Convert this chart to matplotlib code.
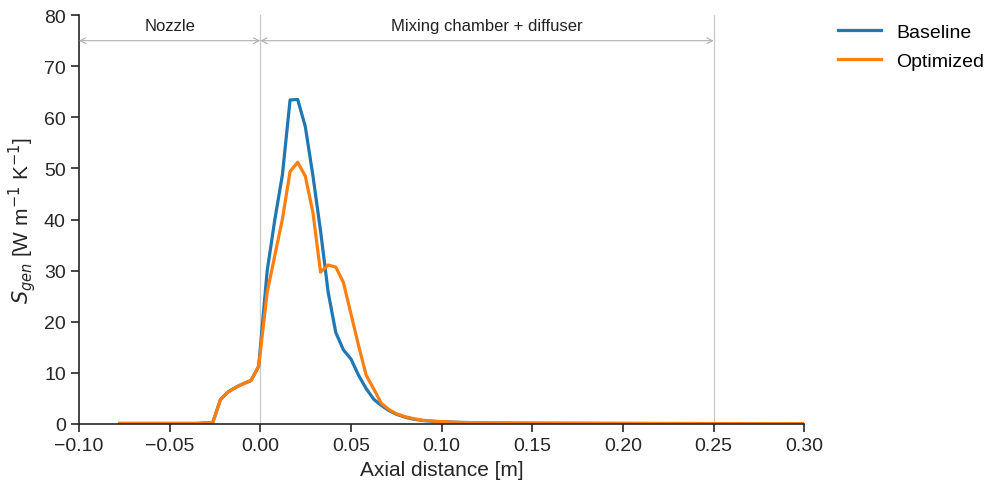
import numpy as np
from matplotlib import pyplot as plt

plt.rcParams["font.family"] = ["Liberation Sans", "DejaVu Sans"]

# axial positions [m]
x = [-0.0775, -0.060, -0.045, -0.035, -0.0262, -0.022, -0.018, -0.0134, -0.0092, -0.0051,
     -0.0009, 0.0038, 0.008, 0.0122, 0.0164, 0.0206, 0.0248, 0.029, 0.0332, 0.0374,
     0.0416, 0.0458, 0.050, 0.0542, 0.0584, 0.0626, 0.0668, 0.071, 0.075, 0.080,
     0.085, 0.090, 0.100, 0.110, 0.125, 0.150, 0.200, 0.250, 0.300]

baseline = [0.1, 0.1, 0.1, 0.1, 0.3, 4.75, 6.2, 7.2, 7.9, 8.5,
            11.3, 30.0, 40.0, 48.8, 63.4, 63.5, 58.2, 48.6, 37.8, 25.8,
            17.9, 14.5, 12.7, 9.5, 6.9, 4.8, 3.6, 2.6, 1.9, 1.3,
            0.9, 0.65, 0.4, 0.3, 0.2, 0.15, 0.1, 0.07, 0.05]

optimized = [0.1, 0.1, 0.1, 0.1, 0.3, 4.75, 6.2, 7.2, 7.9, 8.5,
             11.3, 25.8, 33.0, 40.1, 49.4, 51.2, 48.5, 41.4, 29.7, 31.1,
             30.7, 27.7, 21.5, 15.3, 9.5, 6.8, 4.0, 2.8, 2.0, 1.4,
             1.0, 0.7, 0.45, 0.3, 0.2, 0.15, 0.1, 0.07, 0.05]

fig = plt.figure(figsize=(9.87, 4.89), dpi=100)
ax = fig.add_axes([0.080, 0.131, 0.735, 0.836])

ax.plot(x, baseline, color="#1f77b4", lw=2.3, label="Baseline")
ax.plot(x, optimized, color="#ff7f0e", lw=2.3, label="Optimized")

# section boundaries
for xv in [0.0, 0.25]:
    ax.axvline(xv, color="#c8c8c8", lw=0.9, zorder=0)

arrow = dict(arrowstyle="<->", color="#b0b0b0", lw=0.8, shrinkA=0, shrinkB=0)
ax.annotate("", xy=(-0.1, 75), xytext=(0.0, 75), arrowprops=arrow)
ax.annotate("", xy=(0.0, 75), xytext=(0.25, 75), arrowprops=arrow)
ax.text(-0.05, 78, "Nozzle", ha="center", va="center", fontsize=12, color="#222222")
ax.text(0.125, 78, "Mixing chamber + diffuser", ha="center", va="center",
        fontsize=12, color="#222222")

ax.set_xlim(-0.1, 0.3)
ax.set_ylim(0, 80)
ax.set_xticks(np.arange(-0.1, 0.31, 0.05))
ax.set_yticks(np.arange(0, 81, 10))
ax.tick_params(labelsize=14, direction="out", length=6, width=1.2, colors="#262626")
ax.spines["top"].set_visible(False)
ax.spines["right"].set_visible(False)
for s in ["left", "bottom"]:
    ax.spines[s].set_linewidth(1.2)
    ax.spines[s].set_color("#262626")

ax.set_xlabel("Axial distance [m]", fontsize=15, color="#262626")
ax.set_ylabel(r"$S_{gen}$ [W m$^{-1}$ K$^{-1}$]", fontsize=15, color="#262626")

ax.legend(loc="upper left", bbox_to_anchor=(1.022, 1.022), frameon=False, fontsize=14,
          handlelength=2.2, labelspacing=0.55)

fig.savefig("out.png", dpi=100)
